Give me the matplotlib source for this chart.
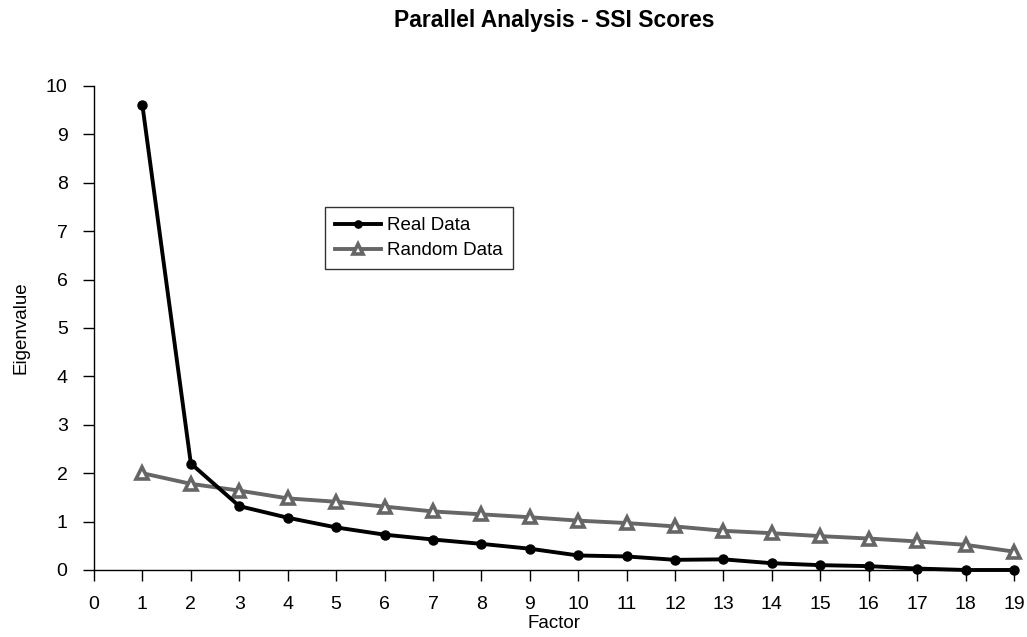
import numpy as np
import matplotlib
matplotlib.use("Agg")
import matplotlib.pyplot as plt

plt.rcParams['font.family'] = ['Liberation Sans', 'DejaVu Sans']

factors = list(range(1, 20))
real_data = [9.6, 2.2, 1.32, 1.08, 0.88, 0.73, 0.63, 0.54, 0.44, 0.30,
             0.28, 0.21, 0.22, 0.14, 0.10, 0.08, 0.03, 0.0, 0.0]
random_data = [2.0, 1.78, 1.64, 1.48, 1.41, 1.31, 1.21, 1.15, 1.09, 1.02,
               0.97, 0.90, 0.81, 0.76, 0.70, 0.65, 0.59, 0.52, 0.38]
xticks = list(range(0, 20))
yticks = list(range(0, 11))

fig = plt.figure(figsize=(10.27, 6.37), dpi=100)
ax = fig.add_axes([94 / 1027, 67 / 637, 920 / 1027, 484 / 637])

ax.plot(factors, random_data, color='#666666', lw=2.8, marker='^', ms=9,
        mfc='white', mec='#666666', mew=2.6, label='Random Data', clip_on=False, zorder=3)
ax.plot(factors, real_data, color='black', lw=2.8, marker='o', ms=6.5,
        label='Real Data', clip_on=False, zorder=4)

ax.set_xlim(0, 19)
ax.set_ylim(0, 10)
ax.set_xticks(xticks)
ax.set_yticks(yticks)
ax.tick_params(direction='out', length=8, width=1, labelsize=14, pad=11)
ax.spines['top'].set_visible(False)
ax.spines['right'].set_visible(False)
for s in ['left', 'bottom']:
    ax.spines[s].set_linewidth(1)

ax.set_xlabel('Factor', fontsize=13.5, labelpad=1)
ax.set_ylabel('Eigenvalue', fontsize=13.5, labelpad=12)
fig.text(554 / 1027, 1 - 21 / 637, 'Parallel Analysis - SSI Scores', ha='center', va='center',
         fontsize=16.5, fontweight='bold')

handles, labels = ax.get_legend_handles_labels()
leg = ax.legend(handles[::-1], labels[::-1], loc='upper left',
                bbox_to_anchor=(325 / 1027, 1 - 207 / 637), bbox_transform=fig.transFigure,
                borderaxespad=0, fontsize=13.5, frameon=True, fancybox=False, edgecolor='black',
                handlelength=2.45, handletextpad=0.3, borderpad=0.55, labelspacing=0.4,
                markerscale=0.8)
leg.get_frame().set_linewidth(1)

fig.savefig('out.png', dpi=100, facecolor='white')
